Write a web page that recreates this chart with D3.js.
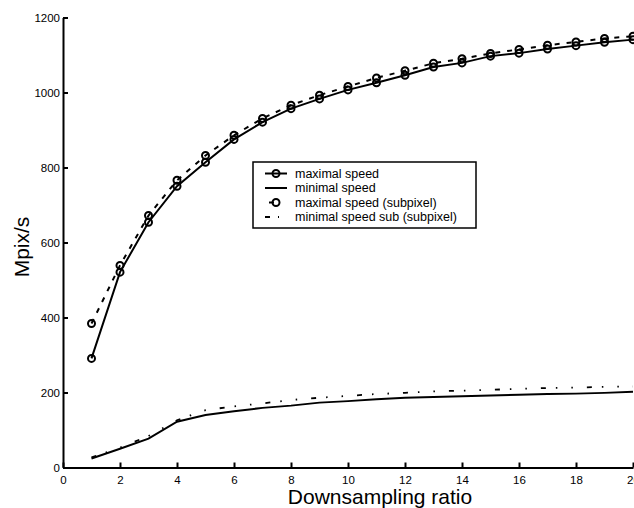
<!DOCTYPE html>
<html>
<head>
<meta charset="utf-8">
<script src="https://cdn.jsdelivr.net/npm/d3@7"></script>
<style>
    body { margin: 0; background: #fff; }
    svg { display: block; font-family: 'Liberation Sans', Arial, Helvetica, sans-serif; }
    .axis path, .axis line { stroke: #000; stroke-width: 2; }
    .axis text { font-size: 11.5px; fill: #000; }
</style>
</head>
<body>
<svg id="chart" width="634" height="508"></svg>
<script>
/**
 * Data.
 */
const ratios = [1, 2, 3, 4, 5, 6, 7, 8, 9, 10, 11, 12, 13, 14, 15, 16, 17, 18, 19, 20];
const maxSpeed = [291, 521, 654, 750, 814, 875, 921, 957, 983, 1007, 1026, 1046, 1068, 1079, 1097, 1105, 1116, 1125, 1134, 1141];
const minSpeed = [24, 50, 77, 122, 140, 150, 159, 165, 173, 177, 182, 186, 188, 190, 192, 194, 196, 197, 199, 202];
const maxSpeedSub = [384, 539, 672, 766, 832, 886, 931, 966, 993, 1016, 1039, 1058, 1078, 1090, 1104, 1115, 1126, 1135, 1144, 1150];
const minSpeedSub = [27, 53, 84, 126, 153, 163, 171, 180, 186, 191, 196, 199, 203, 205, 207, 210, 212, 213, 215, 216];
const xTicks = [0, 2, 4, 6, 8, 10, 12, 14, 16, 18, 20];
const yTicks = [0, 200, 400, 600, 800, 1000, 1200];

const series = [
    { label: 'maximal speed', values: maxSpeed, dash: null, width: 2, marker: true },
    { label: 'minimal speed', values: minSpeed, dash: null, width: 2, marker: false },
    { label: 'maximal speed (subpixel)', values: maxSpeedSub, dash: '5,7', width: 2, marker: true },
    { label: 'minimal speed sub (subpixel)', values: minSpeedSub, dash: '5,10,1.5,14,1.5,14', width: 1.8, marker: false }
];

/**
 * Scales and axes.
 */
const svg = d3.select('#chart');
const xScale = d3.scaleLinear().domain([0, 20]).range([63, 633]);
const yScale = d3.scaleLinear().domain([0, 1200]).range([467.5, 17.5]);

const xAxis = d3.axisBottom(xScale).tickValues(xTicks).tickFormat(d3.format('d'))
    .tickSize(-5).tickSizeOuter(0).tickPadding(8.5);
const yAxis = d3.axisLeft(yScale).tickValues(yTicks).tickFormat(d3.format('d'))
    .tickSize(-5).tickSizeOuter(0).tickPadding(3);

svg.append('g').attr('class', 'axis x-axis')
    .attr('transform', 'translate(0,' + yScale(0) + ')')
    .call(xAxis);
svg.append('g').attr('class', 'axis y-axis')
    .attr('transform', 'translate(' + xScale(0) + ',0)')
    .call(yAxis);

// Axis labels
svg.append('text')
    .attr('x', 380).attr('y', 504)
    .attr('text-anchor', 'middle')
    .style('font-size', '21px')
    .text('Downsampling ratio');
svg.append('text')
    .attr('transform', 'translate(29,247) rotate(-90)')
    .attr('text-anchor', 'middle')
    .style('font-size', '21px')
    .text('Mpix/s');

/**
 * Lines and markers.
 */
const line = d3.line()
    .x((d, i) => xScale(ratios[i]))
    .y(d => yScale(d));

const items = svg.append('g').attr('class', 'items');
series.forEach(s => {
    items.append('path')
        .attr('d', line(s.values))
        .attr('fill', 'none')
        .attr('stroke', '#000')
        .attr('stroke-width', s.width)
        .attr('stroke-dasharray', s.dash);

    if (s.marker) {
        items.selectAll(null).data(s.values).enter().append('circle')
            .attr('cx', (d, i) => xScale(ratios[i]))
            .attr('cy', d => yScale(d))
            .attr('r', 3.5)
            .attr('fill', 'none')
            .attr('stroke', '#000')
            .attr('stroke-width', 2);
    }
});

/**
 * Legend.
 */
const legend = svg.append('g').attr('class', 'legend').attr('transform', 'translate(253,162)');
legend.append('rect')
    .attr('width', 223).attr('height', 66)
    .attr('fill', '#fff')
    .attr('stroke', '#000')
    .attr('stroke-width', 1.5);

const rows = legend.selectAll('.row').data(series).enter().append('g')
    .attr('class', 'row')
    .attr('transform', (d, i) => 'translate(0,' + (11.5 + i * 14.5) + ')');

rows.append('line')
    .attr('x1', d => d.dash && d.marker ? 16 : 12).attr('x2', 34)
    .attr('stroke', '#000')
    .attr('stroke-width', 2)
    .attr('stroke-dasharray', d => d.dash ? (d.marker ? '5,20' : '5,8,1,20') : null);
rows.filter(d => d.marker).append('circle')
    .attr('cx', 23).attr('r', 3.5)
    .attr('fill', 'none')
    .attr('stroke', '#000')
    .attr('stroke-width', 2);
rows.append('text')
    .attr('x', 42).attr('dy', '0.35em')
    .style('font-size', '12.5px')
    .text(d => d.label);
</script>
</body>
</html>
